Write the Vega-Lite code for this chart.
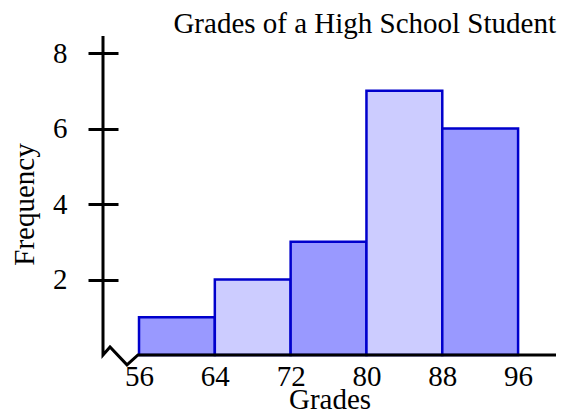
{
  "$schema": "https://vega.github.io/schema/vega-lite/v6.json",
  "autosize": "none",
  "width": 453,
  "height": 317,
  "padding": {"left": 103, "top": 38, "right": 7, "bottom": 59},
  "background": "white",
  "config": {
    "view": {"stroke": null},
    "font": "Liberation Serif"
  },
  "title": {
    "text": "Grades of a High School Student",
    "anchor": "end",
    "frame": "group",
    "font": "Liberation Serif",
    "fontSize": 29,
    "fontWeight": "normal",
    "color": "#000",
    "baseline": "bottom",
    "offset": 1,
    "dy": 39
  },
  "datasets": {
    "bins": [
      {"start": 56, "end": 64, "count": 1, "shade": "dark"},
      {"start": 64, "end": 72, "count": 2, "shade": "light"},
      {"start": 72, "end": 80, "count": 3, "shade": "dark"},
      {"start": 80, "end": 88, "count": 7, "shade": "light"},
      {"start": 88, "end": 96, "count": 6, "shade": "dark"}
    ],
    "axisPath": [
      {"order": 1, "gx": 52.2, "fy": 8.45},
      {"order": 2, "gx": 52.2, "fy": 0},
      {"order": 3, "gx": 52.94, "fy": 0.21},
      {"order": 4, "gx": 54.73, "fy": -0.26},
      {"order": 5, "gx": 55.89, "fy": 0},
      {"order": 6, "gx": 100, "fy": 0}
    ]
  },
  "layer": [
    {
      "data": {"name": "bins"},
      "mark": {"type": "bar", "stroke": "#0000cc", "strokeWidth": 2.5},
      "encoding": {
        "x": {
          "field": "start",
          "type": "quantitative",
          "scale": {"domain": [52.2, 100], "nice": false, "zero": false},
          "axis": {
            "values": [56, 64, 72, 80, 88, 96],
            "domain": false,
            "ticks": false,
            "tickSize": 0,
            "grid": false,
            "labelFontSize": 29,
            "labelFont": "Liberation Serif",
            "labelColor": "#000",
            "labelPadding": 7,
            "labelFlush": false,
            "title": "Grades",
            "titleFontSize": 29,
            "titleFont": "Liberation Serif",
            "titleFontWeight": "normal",
            "titleColor": "#000",
            "titlePadding": -6
          }
        },
        "x2": {"field": "end"},
        "y": {
          "field": "count",
          "type": "quantitative",
          "scale": {"domain": [0, 8.4], "nice": false},
          "axis": {
            "values": [2, 4, 6, 8],
            "domain": false,
            "offset": -15,
            "tickSize": 30,
            "tickWidth": 3,
            "tickColor": "#000",
            "grid": false,
            "labelFontSize": 29,
            "labelFont": "Liberation Serif",
            "labelColor": "#000",
            "labelPadding": 21,
            "title": "Frequency",
            "titleFontSize": 29,
            "titleFont": "Liberation Serif",
            "titleFontWeight": "normal",
            "titleColor": "#000",
            "titlePadding": 13,
            "titleY": 166
          }
        },
        "y2": {"datum": 0},
        "fill": {
          "field": "shade",
          "type": "nominal",
          "scale": {"domain": ["dark", "light"], "range": ["#9999ff", "#ccccff"]},
          "legend": null
        }
      }
    },
    {
      "data": {"name": "axisPath"},
      "mark": {"type": "line", "color": "#000", "strokeWidth": 3, "clip": false, "strokeJoin": "miter"},
      "encoding": {
        "x": {"field": "gx", "type": "quantitative"},
        "y": {"field": "fy", "type": "quantitative"},
        "order": {"field": "order", "type": "quantitative"}
      }
    }
  ]
}
